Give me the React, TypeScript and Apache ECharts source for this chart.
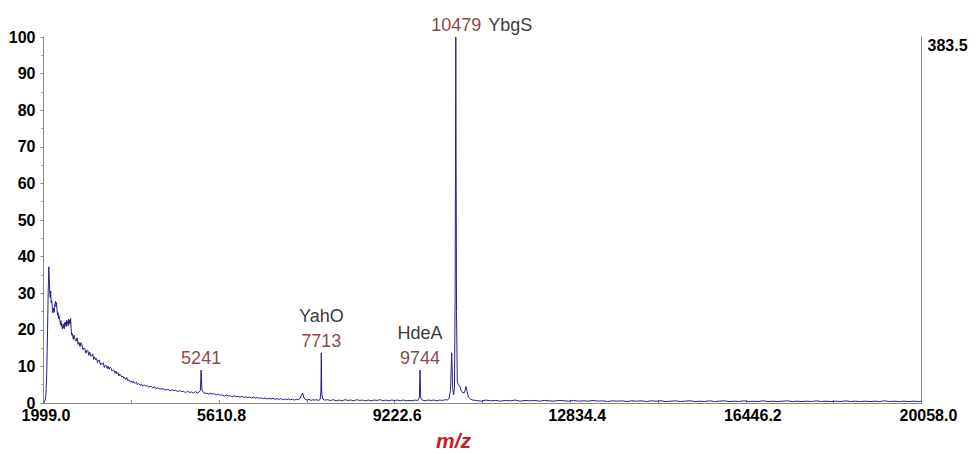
import { useEffect, useRef } from "react";
import * as echarts from "echarts";

// MALDI-TOF spectrum trace, [m/z, relative intensity %]
const onsetRegion: [number, number][] = [
  [1999, 0], [2015, 0.3], [2035, 0.8], [2050, 2.5], [2065, 8], [2080, 18], [2095, 30], [2108, 37.2],
  [2118, 33.8], [2128, 30.1], [2137, 28.8], [2147, 30.6], [2157, 27.4], [2167, 28.0], [2177, 26.6],
  [2187, 24.8], [2197, 24.6], [2207, 25.9], [2217, 24.8], [2227, 26.1], [2237, 27.2], [2247, 27.8],
  [2257, 26.3], [2267, 27.4], [2277, 25.6], [2287, 24.0], [2297, 24.7], [2307, 23.0], [2317, 23.9],
  [2327, 22.7], [2337, 22.5], [2347, 21.4], [2357, 22.5], [2367, 20.8], [2377, 21.7], [2387, 20.2],
  [2397, 20.9], [2407, 20.6], [2417, 21.6], [2427, 20.3], [2437, 22.0], [2447, 21.2], [2457, 22.1],
  [2467, 20.9], [2477, 22.6], [2487, 21.6], [2497, 22.3], [2507, 21.1], [2517, 22.9], [2527, 21.8],
  [2537, 22.7], [2547, 21.5], [2557, 23.1], [2567, 20.4], [2577, 18.8], [2587, 18.4], [2597, 18.9],
];

const decayRegion: [number, number][] = [
  [2610, 17.4], [2630, 18.5], [2650, 17.1], [2670, 16.9], [2690, 17.8], [2710, 16.0], [2730, 16.6],
  [2750, 15.4], [2770, 16.5], [2790, 15.9], [2810, 14.6], [2830, 15.0], [2850, 14.9], [2870, 13.6],
  [2890, 14.3], [2910, 14.4], [2930, 13.0], [2950, 13.9], [2970, 12.8], [2990, 12.9], [3010, 13.4],
  [3030, 11.9], [3050, 12.6], [3070, 11.8], [3090, 12.2], [3110, 11.0], [3130, 11.6], [3150, 11.7],
  [3170, 10.4], [3190, 10.9], [3210, 10.6], [3230, 11.0], [3250, 9.7], [3270, 10.3], [3290, 10.2],
  [3310, 9.4], [3330, 10.1], [3350, 9.2], [3370, 9.8], [3390, 9.5], [3410, 8.7], [3430, 9.0],
  [3450, 8.9], [3470, 8.1], [3490, 8.7], [3510, 8.0], [3530, 8.3], [3550, 7.4], [3570, 7.9],
  [3590, 7.6], [3610, 7.1], [3630, 7.4], [3650, 6.8], [3670, 6.9], [3690, 6.4], [3710, 7.0],
  [3730, 6.1], [3750, 6.3], [3770, 6.2], [3790, 5.7], [3810, 6.0], [3830, 5.5], [3850, 5.9],
  [3870, 5.4], [3890, 5.5], [3910, 5.7], [3930, 5.0], [3950, 5.3], [3970, 5.1], [3990, 4.8],
  [4010, 5.2], [4040, 4.7], [4070, 4.9], [4100, 4.6], [4130, 4.8], [4160, 4.3], [4190, 4.6],
  [4220, 4.4], [4250, 4.1], [4280, 4.5], [4310, 3.9], [4340, 4.1], [4370, 4.0], [4400, 3.8],
];

const midRegion: [number, number][] = [
  [4440, 3.9], [4480, 3.8], [4520, 3.5], [4560, 3.8], [4600, 3.3], [4640, 3.6], [4680, 3.4],
  [4720, 3.5], [4760, 3.1], [4800, 3.4], [4840, 3.1], [4880, 3.2], [4920, 2.8], [4960, 3.2],
  [5000, 2.9], [5040, 3.0], [5080, 2.7], [5120, 3.1], [5160, 2.7], [5200, 3.0], [5225, 3.4],
  [5257, 3.6], [5280, 3.0], [5320, 2.6], [5360, 2.7], [5400, 2.4], [5440, 2.7], [5480, 2.4],
  [5520, 2.5], [5560, 2.2], [5600, 2.4], [5640, 2.1], [5680, 2.2], [5720, 1.9], [5760, 2.2],
  [5800, 1.9], [5840, 2.0], [5880, 1.7], [5920, 2.0], [5960, 1.7], [6000, 1.8], [6040, 1.6],
  [6080, 1.8], [6120, 1.5], [6160, 1.7], [6200, 1.5], [6240, 1.6], [6280, 1.4], [6320, 1.6],
  [6360, 1.3], [6400, 1.5], [6440, 1.3], [6480, 1.4], [6520, 1.2], [6560, 1.4], [6600, 1.1],
  [6640, 1.3], [6680, 1.1], [6720, 1.3], [6760, 1.0], [6800, 1.2], [6840, 1.0], [6880, 1.2],
  [6920, 0.9], [6960, 1.1], [7000, 0.9], [7040, 1.1], [7080, 0.9], [7120, 1.0], [7160, 0.8],
  [7200, 1.0], [7240, 0.9], [7280, 1.3], [7310, 2.4], [7330, 2.7], [7350, 1.6], [7380, 1.0],
  [7420, 0.8], [7460, 1.0], [7500, 0.7], [7540, 0.9], [7580, 0.8], [7620, 0.9], [7660, 0.7],
  [7690, 1.0], [7705, 3.5], [7721, 3.0], [7740, 1.1], [7780, 0.8],
];

const ybgsRegion: [number, number][] = [
  [7840, 0.9], [7900, 0.7], [7960, 0.9], [8020, 0.6], [8080, 0.8], [8140, 0.6], [8200, 0.9],
  [8260, 0.7], [8320, 0.8], [8380, 0.6], [8440, 0.9], [8500, 0.7], [8560, 0.8], [8620, 0.6],
  [8680, 0.8], [8740, 0.6], [8800, 0.8], [8860, 0.7], [8920, 0.9], [8980, 0.6], [9040, 0.8],
  [9100, 0.6], [9160, 0.8], [9220, 0.7], [9280, 0.8], [9340, 0.6], [9400, 0.8], [9460, 0.6],
  [9520, 0.7], [9580, 0.6], [9640, 0.8], [9700, 0.7], [9730, 1.5], [9758, 1.4], [9790, 0.8],
  [9850, 0.6], [9910, 0.8], [9970, 0.7], [10030, 0.8], [10090, 0.6], [10150, 0.8], [10210, 0.7],
  [10260, 0.9], [10300, 0.8], [10340, 1.2], [10370, 3.5], [10395, 13.7], [10415, 4.0],
  [10435, 2.2], [10452, 4.0], [10466, 30], [10494, 25], [10510, 6], [10530, 5.0], [10560, 4.6],
  [10590, 3.4], [10620, 2.8], [10660, 2.9], [10688, 4.5], [10710, 3.2], [10740, 1.6],
  [10780, 1.1], [10830, 0.8],
];

const highMassRegion: [number, number][] = [
  [10900, 0.7], [11000, 0.5], [11100, 0.8], [11200, 0.6], [11300, 0.7], [11400, 0.5], [11500, 0.7],
  [11600, 0.6], [11700, 0.8], [11800, 0.5], [11900, 0.7], [12000, 0.6], [12100, 0.7], [12200, 0.5],
  [12300, 0.7], [12400, 0.6], [12500, 0.5], [12600, 0.7], [12700, 0.6], [12800, 0.5], [12900, 0.7],
  [13000, 0.5], [13100, 0.6], [13200, 0.5], [13300, 0.7], [13400, 0.5], [13500, 0.6], [13600, 0.4],
  [13700, 0.6], [13800, 0.5], [13900, 0.6], [14000, 0.4], [14100, 0.6], [14200, 0.5], [14300, 0.6],
  [14400, 0.4], [14500, 0.6], [14600, 0.5], [14700, 0.6], [14800, 0.4], [14900, 0.5], [15000, 0.6],
  [15100, 0.4], [15200, 0.5], [15300, 0.6], [15400, 0.4], [15500, 0.5], [15600, 0.4], [15700, 0.6],
  [15800, 0.4], [15900, 0.5], [16000, 0.6], [16100, 0.4], [16200, 0.5], [16300, 0.4], [16400, 0.6],
  [16500, 0.4], [16600, 0.5], [16700, 0.4], [16800, 0.6], [16900, 0.4], [17000, 0.5], [17100, 0.4],
  [17200, 0.5], [17300, 0.6], [17400, 0.4], [17500, 0.5], [17600, 0.4], [17700, 0.5], [17800, 0.4],
  [17900, 0.6], [18000, 0.4], [18100, 0.5], [18200, 0.4], [18300, 0.5], [18400, 0.4], [18500, 0.6],
  [18600, 0.4], [18700, 0.5], [18800, 0.4], [18900, 0.5], [19000, 0.4], [19100, 0.5], [19200, 0.4],
  [19300, 0.6], [19400, 0.4], [19500, 0.5], [19600, 0.4], [19700, 0.5], [19800, 0.4], [19900, 0.5],
  [20000, 0.4], [20058, 0.5],
];

// Annotated peaks
const peakMz = [5241, 7713, 9744, 10479];
const peakIntensity = [9.0, 13.7, 9.0, 100];
const peakNames = ["", "YahO", "HdeA", "YbgS"];

// Axes
const xTickLabels = [1999.0, 5610.8, 9222.6, 12834.4, 16446.2, 20058.0];
const xMinorTicks = [3804.9, 7416.7, 11028.5, 14640.3, 18252.1];
const absoluteMax = 383.5;

const FONT = "'Liberation Sans', Arial, sans-serif";

export default function App() {
  const ref = useRef<HTMLDivElement>(null);

  useEffect(() => {
    const chart = echarts.init(ref.current!, null, { renderer: "svg" });

    const apexes: [number, number][] = peakMz.map((m, i) => [m, peakIntensity[i]]);
    const trace = [
      ...onsetRegion,
      ...decayRegion,
      ...midRegion,
      ...ybgsRegion,
      ...highMassRegion,
      ...apexes,
    ].sort((a, b) => a[0] - b[0]);

    const labelItems = peakMz.map((m, i) => {
      const num = `{num|${m}}`;
      const name = peakNames[i];
      let formatter = num;
      let offset: [number, number] = [0, 0];
      if (name && i === peakMz.length - 1) {
        formatter = `${num}{side|${name}}`;
        offset = [26, 0];
      } else if (name) {
        formatter = `{name|${name}}\n${num}`;
      }
      return {
        value: [m, peakIntensity[i]],
        label: { formatter, offset },
      };
    });

    chart.setOption({
      animation: false,
      backgroundColor: "#ffffff",
      grid: { left: 43.5, right: 57.5, top: 37, bottom: 51, containLabel: false },
      xAxis: {
        type: "value",
        min: 1999,
        max: 20058,
        axisLine: { show: true, lineStyle: { color: "#8a8a8a", width: 1 } },
        axisTick: {
          show: true,
          inside: true,
          length: 3,
          customValues: [...xTickLabels, ...xMinorTicks],
          lineStyle: { color: "#8a8a8a" },
        },
        axisLabel: {
          customValues: xTickLabels,
          formatter: (v: number) => v.toFixed(1),
          color: "#000",
          fontFamily: FONT,
          fontWeight: "bold",
          fontSize: 16,
          align: "left",
          padding: [0, 0, 0, -22],
          margin: 4,
        },
        splitLine: { show: false },
      },
      yAxis: [
        {
          type: "value",
          min: 0,
          max: 100,
          interval: 10,
          axisLine: { show: true, lineStyle: { color: "#8a8a8a", width: 1 } },
          axisTick: { show: true, length: 3, lineStyle: { color: "#8a8a8a" } },
          minorTick: { show: true, splitNumber: 2, length: 2, lineStyle: { color: "#8a8a8a" } },
          axisLabel: {
            color: "#000",
            fontFamily: FONT,
            fontWeight: "bold",
            fontSize: 16,
            margin: 8,
          },
          splitLine: { show: false },
        },
        {
          type: "value",
          position: "right",
          min: 0,
          max: absoluteMax,
          axisLine: { show: true, lineStyle: { color: "#8a8a8a", width: 1 } },
          axisTick: { show: false },
          axisLabel: {
            customValues: [absoluteMax],
            formatter: (v: number) => v.toFixed(1),
            color: "#000",
            fontFamily: FONT,
            fontWeight: "bold",
            fontSize: 16,
            margin: 6,
            verticalAlign: "top",
          },
          splitLine: { show: false },
        },
      ],
      series: [
        {
          type: "line",
          data: trace,
          showSymbol: false,
          symbol: "none",
          lineStyle: { color: "#23218a", width: 1 },
          z: 2,
        },
        {
          type: "scatter",
          data: labelItems,
          symbolSize: 0,
          itemStyle: { color: "rgba(0,0,0,0)" },
          label: {
            show: true,
            position: "top",
            distance: 2,
            fontFamily: FONT,
            rich: {
              num: { color: "#6a1212", fontSize: 18, lineHeight: 20, fontFamily: FONT },
              name: { color: "#000", fontSize: 18, lineHeight: 30, fontFamily: FONT },
              side: { color: "#000", fontSize: 18, lineHeight: 20, fontFamily: FONT, padding: [0, 0, 0, 7] },
            },
          },
          z: 3,
        },
      ],
      graphic: [
        {
          type: "text",
          left: 436,
          top: 430,
          style: {
            text: "m/z",
            fill: "#cc1b20",
            font: `italic bold 21px ${FONT}`,
          },
        },
      ],
    });

    return () => chart.dispose();
  }, []);

  return (
    <div
      ref={ref}
      style={{ position: "fixed", left: 0, top: 0, width: 979, height: 454, background: "#fff" }}
    />
  );
}
